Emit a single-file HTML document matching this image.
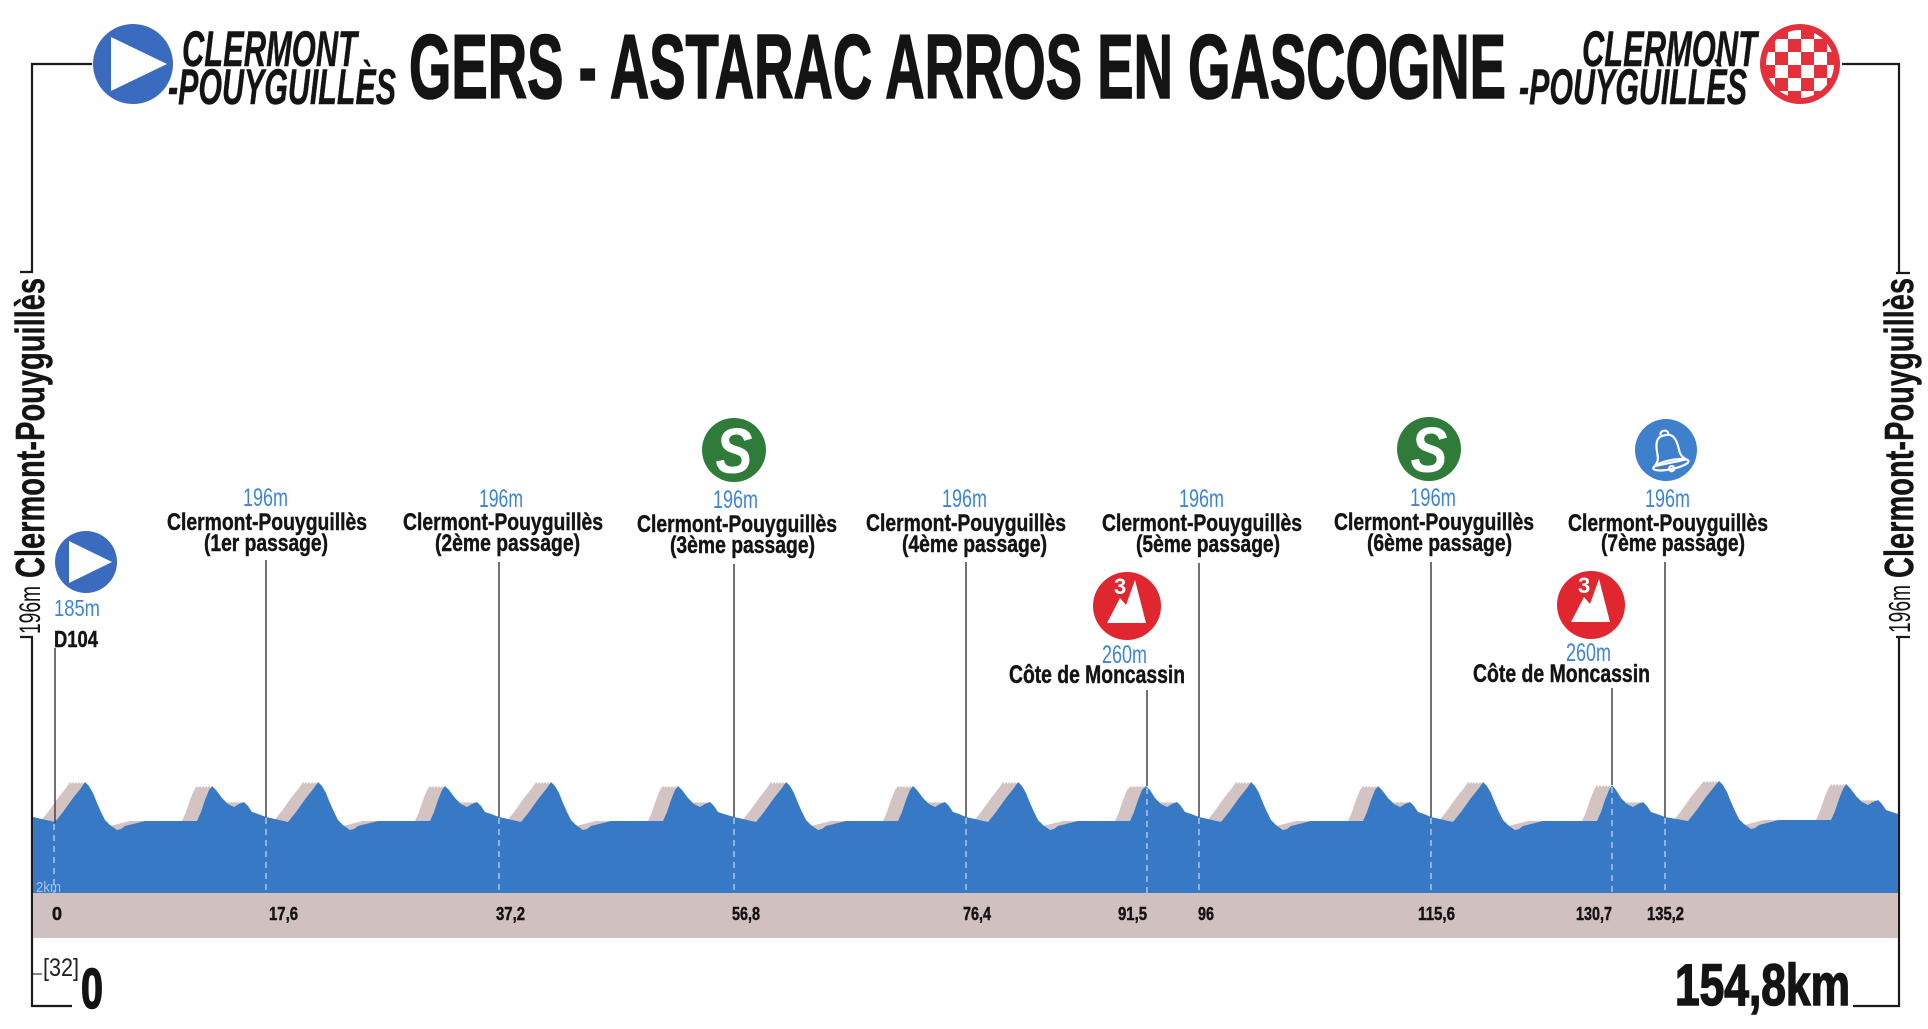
<!DOCTYPE html>
<html><head><meta charset="utf-8"><style>
html,body{margin:0;padding:0;background:#fff;}
svg{display:block;}
text{font-family:"Liberation Sans","DejaVu Sans",sans-serif;}
.b{font-weight:bold;fill:#141414;}
.l{fill:#3d84d6;}
.k{font-weight:bold;fill:#141414;font-size:18px;}
.h{stroke:#141414;stroke-width:1.6;}
.m{stroke:#141414;stroke-width:0.45;}
</style></head><body>
<svg width="1928" height="1029" viewBox="0 0 1928 1029" xmlns="http://www.w3.org/2000/svg">
<defs>
<path id="prof" d="M33,893 L33,817 55,822 63,812 73,798 81,788 85,782 89,786 93,793 97,803 101,812 105,820 110,825 117,830 121,829 125,826 133,824 145,821 197,821 201,812 205,800 209,790 212,786 216,790 222,798 228,804 234,807 239,804 244,802 248,806 252,812 258,814
266,817 288,822 296,812 306,798 314,788 318,782 322,786 326,793 330,803 334,812 338,820 343,825 350,830 354,829 358,826 366,824 378,821 430,821 434,812 438,800 442,790 445,786 449,790 455,798 461,804 467,807 472,804 477,802 481,806 485,812 491,814
499,817 521,822 529,812 539,798 547,788 551,782 555,786 559,793 563,803 567,812 571,820 576,825 583,830 587,829 591,826 599,824 611,821 663,821 667,812 671,800 675,790 678,786 682,790 688,798 694,804 700,807 705,804 710,802 714,806 718,812 724,814
734,817 756,822 764,812 774,798 782,788 786,782 790,786 794,793 798,803 802,812 806,820 811,825 818,830 822,829 826,826 834,824 846,821 898,821 902,812 906,800 910,790 913,786 917,790 923,798 929,804 935,807 940,804 945,802 949,806 953,812 959,814
966,817 988,822 996,812 1006,798 1014,788 1018,782 1022,786 1026,793 1030,803 1034,812 1038,820 1043,825 1050,830 1054,829 1058,826 1066,824 1078,821 1130,821 1134,812 1138,800 1142,790 1146,786 1150,790 1155,798 1161,804 1167,807 1172,804 1177,802 1181,806 1185,812 1191,814
1199,817 1221,822 1229,812 1239,798 1247,788 1251,782 1255,786 1259,793 1263,803 1267,812 1271,820 1276,825 1283,830 1287,829 1291,826 1299,824 1311,821 1363,821 1367,812 1371,800 1375,790 1378,786 1382,790 1388,798 1394,804 1400,807 1405,804 1410,802 1414,806 1418,812 1424,814
1431,817 1453,822 1461,812 1471,798 1479,788 1483,782 1487,786 1491,793 1495,803 1499,812 1503,820 1508,825 1515,830 1519,829 1523,826 1531,824 1543,821 1597,821 1601,812 1605,800 1609,790 1612,785 1616,790 1621,798 1627,804 1633,807 1638,804 1643,802 1647,806 1651,812 1657,814
1665,817 1688,821 1696,811 1706,797 1714,787 1719,781 1723,785 1727,792 1731,802 1735,811 1739,819 1744,824 1751,829 1755,828 1759,825 1767,823 1779,820 1831,820 1835,811 1839,799 1843,789 1846,784 1850,788 1856,796 1862,802 1868,805 1873,802 1878,800 1882,804 1886,810 1892,812 1898,814 L1898,893 Z"/>
<clipPath id="cp"><rect x="33" y="700" width="1866" height="200"/></clipPath>
<clipPath id="flagc"><circle cx="1800" cy="64" r="34"/></clipPath>
</defs>

<!-- frame / axes -->
<g stroke="#1a1a1a" stroke-width="2.2" fill="none">
<path d="M92,64 H32 V272 M20,272 H33"/>
<path d="M32,637 V1006 H72 M20,637 H33"/>
<path d="M1842,64 H1899 V273 M1896,273 H1910"/>
<path d="M1899,637 V1006 H1853 M1896,637 H1910"/>
</g>
<line x1="33" y1="974" x2="42" y2="974" stroke="#334" stroke-width="1.2"/>

<!-- title -->
<text class="b h" x="409" y="98" font-size="91" textLength="1097" lengthAdjust="spacingAndGlyphs">GERS - ASTARAC ARROS EN GASCOGNE</text>
<text class="b m" x="182" y="66" font-size="50" font-style="italic" textLength="175" lengthAdjust="spacingAndGlyphs">CLERMONT</text>
<text class="b m" x="168" y="104" font-size="50" font-style="italic" textLength="228" lengthAdjust="spacingAndGlyphs">-POUYGUILLÈS</text>
<text class="b m" x="1582" y="66" font-size="50" font-style="italic" textLength="175" lengthAdjust="spacingAndGlyphs">CLERMONT</text>
<text class="b m" x="1519" y="104" font-size="50" font-style="italic" textLength="228" lengthAdjust="spacingAndGlyphs">-POUYGUILLÈS</text>

<!-- start logo -->
<circle cx="133" cy="64" r="40" fill="#3a6bbf"/>
<polygon points="111,37 111,91 167,64" fill="#fff"/>
<!-- finish logo -->
<circle cx="1800" cy="64" r="40" fill="#e3303b"/>
<g clip-path="url(#flagc)" fill="#fff">
<rect x="1762" y="26" width="13" height="13"/><rect x="1788" y="26" width="13" height="13"/><rect x="1814" y="26" width="13" height="13"/>
<rect x="1775" y="39" width="13" height="13"/><rect x="1801" y="39" width="13" height="13"/><rect x="1827" y="39" width="13" height="13"/>
<rect x="1762" y="52" width="13" height="13"/><rect x="1788" y="52" width="13" height="13"/><rect x="1814" y="52" width="13" height="13"/>
<rect x="1775" y="65" width="13" height="13"/><rect x="1801" y="65" width="13" height="13"/><rect x="1827" y="65" width="13" height="13"/>
<rect x="1762" y="78" width="13" height="13"/><rect x="1788" y="78" width="13" height="13"/><rect x="1814" y="78" width="13" height="13"/>
<rect x="1775" y="91" width="13" height="13"/><rect x="1801" y="91" width="13" height="13"/>
</g>

<!-- rotated side labels -->
<text class="b m" transform="translate(44,578) rotate(-90)" font-size="41" textLength="300" lengthAdjust="spacingAndGlyphs">Clermont-Pouyguillès</text>
<text transform="translate(40,634) rotate(-90)" font-size="30" fill="#141414" textLength="48" lengthAdjust="spacingAndGlyphs">196m</text>
<text class="b m" transform="translate(1913,578) rotate(-90)" font-size="41" textLength="300" lengthAdjust="spacingAndGlyphs">Clermont-Pouyguillès</text>
<text transform="translate(1910,633) rotate(-90)" font-size="31" fill="#141414" textLength="48" lengthAdjust="spacingAndGlyphs">196m</text>

<!-- profile -->
<g clip-path="url(#cp)" fill="#d3c3c3">
<use href="#prof" transform="translate(-15,0)"/>
<use href="#prof" transform="translate(-12,0)"/>
<use href="#prof" transform="translate(-9,0)"/>
<use href="#prof" transform="translate(-6,0)"/>
<use href="#prof" transform="translate(-3,0)"/>
</g>
<use href="#prof" fill="#3879c6"/>
<rect x="33" y="893" width="1865" height="45" fill="#d1c0c0"/>

<!-- dashed lines in profile -->
<g stroke="#b3cbeb" stroke-width="1.4" stroke-dasharray="6 5">
<line x1="54" y1="824" x2="54" y2="893"/>
<line x1="266" y1="818" x2="266" y2="893"/>
<line x1="499" y1="818" x2="499" y2="893"/>
<line x1="734" y1="818" x2="734" y2="893"/>
<line x1="966" y1="818" x2="966" y2="893"/>
<line x1="1147" y1="788" x2="1147" y2="893"/>
<line x1="1199" y1="818" x2="1199" y2="893"/>
<line x1="1431" y1="818" x2="1431" y2="893"/>
<line x1="1612" y1="787" x2="1612" y2="893"/>
<line x1="1665" y1="818" x2="1665" y2="893"/>
</g>
<!-- solid leader lines -->
<g stroke="#444" stroke-width="1.5">
<line x1="55" y1="648" x2="55" y2="823"/>
<line x1="266" y1="560" x2="266" y2="817"/>
<line x1="499" y1="562" x2="499" y2="817"/>
<line x1="734" y1="564" x2="734" y2="817"/>
<line x1="966" y1="562" x2="966" y2="817"/>
<line x1="1147" y1="690" x2="1147" y2="786"/>
<line x1="1199" y1="563" x2="1199" y2="817"/>
<line x1="1431" y1="562" x2="1431" y2="817"/>
<line x1="1612" y1="688" x2="1612" y2="785"/>
<line x1="1665" y1="562" x2="1665" y2="817"/>
</g>

<text x="36" y="892" font-size="15" fill="#a9c2e4" textLength="25" lengthAdjust="spacingAndGlyphs">2km</text>

<!-- km labels -->
<g class="m">
<text class="k" x="52" y="920">0</text>
<text class="k" x="269" y="920" textLength="29" lengthAdjust="spacingAndGlyphs">17,6</text>
<text class="k" x="496" y="920" textLength="29" lengthAdjust="spacingAndGlyphs">37,2</text>
<text class="k" x="732" y="920" textLength="28" lengthAdjust="spacingAndGlyphs">56,8</text>
<text class="k" x="963" y="920" textLength="28" lengthAdjust="spacingAndGlyphs">76,4</text>
<text class="k" x="1118" y="920" textLength="29" lengthAdjust="spacingAndGlyphs">91,5</text>
<text class="k" x="1198" y="920" textLength="16" lengthAdjust="spacingAndGlyphs">96</text>
<text class="k" x="1418" y="920" textLength="37" lengthAdjust="spacingAndGlyphs">115,6</text>
<text class="k" x="1576" y="920" textLength="36" lengthAdjust="spacingAndGlyphs">130,7</text>
<text class="k" x="1647" y="920" textLength="37" lengthAdjust="spacingAndGlyphs">135,2</text>
</g>

<!-- bottom labels -->
<text x="43" y="976" font-size="25" fill="#222" textLength="36" lengthAdjust="spacingAndGlyphs">[32]</text>
<text class="b h" x="81" y="1008" font-size="57" textLength="22" lengthAdjust="spacingAndGlyphs">0</text>
<text class="b h" x="1675" y="1005" font-size="58" textLength="175" lengthAdjust="spacingAndGlyphs">154,8km</text>

<!-- start small -->
<circle cx="86" cy="562" r="31" fill="#3a6bbf"/>
<polygon points="69,541 69,583 112,562" fill="#fff"/>
<text class="l" x="54" y="616" font-size="23" textLength="46" lengthAdjust="spacingAndGlyphs">185m</text>
<text class="b m" x="54" y="647" font-size="23" textLength="44" lengthAdjust="spacingAndGlyphs">D104</text>

<!-- passage labels -->
<g font-size="25">
<text class="l" x="243" y="506" textLength="45" lengthAdjust="spacingAndGlyphs">196m</text>
<text class="l" x="479" y="507" textLength="44" lengthAdjust="spacingAndGlyphs">196m</text>
<text class="l" x="713" y="508" textLength="45" lengthAdjust="spacingAndGlyphs">196m</text>
<text class="l" x="942" y="507" textLength="45" lengthAdjust="spacingAndGlyphs">196m</text>
<text class="l" x="1179" y="507" textLength="45" lengthAdjust="spacingAndGlyphs">196m</text>
<text class="l" x="1410" y="506" textLength="46" lengthAdjust="spacingAndGlyphs">196m</text>
<text class="l" x="1645" y="507" textLength="45" lengthAdjust="spacingAndGlyphs">196m</text>
</g>
<g font-size="24" class="m">
<text class="b" x="167" y="530" textLength="200" lengthAdjust="spacingAndGlyphs">Clermont-Pouyguillès</text>
<text class="b" x="204" y="551" textLength="124" lengthAdjust="spacingAndGlyphs">(1er passage)</text>
<text class="b" x="403" y="530" textLength="200" lengthAdjust="spacingAndGlyphs">Clermont-Pouyguillès</text>
<text class="b" x="435" y="551" textLength="145" lengthAdjust="spacingAndGlyphs">(2ème passage)</text>
<text class="b" x="637" y="532" textLength="200" lengthAdjust="spacingAndGlyphs">Clermont-Pouyguillès</text>
<text class="b" x="670" y="553" textLength="145" lengthAdjust="spacingAndGlyphs">(3ème passage)</text>
<text class="b" x="866" y="531" textLength="200" lengthAdjust="spacingAndGlyphs">Clermont-Pouyguillès</text>
<text class="b" x="902" y="552" textLength="145" lengthAdjust="spacingAndGlyphs">(4ème passage)</text>
<text class="b" x="1102" y="531" textLength="200" lengthAdjust="spacingAndGlyphs">Clermont-Pouyguillès</text>
<text class="b" x="1136" y="552" textLength="144" lengthAdjust="spacingAndGlyphs">(5ème passage)</text>
<text class="b" x="1334" y="530" textLength="200" lengthAdjust="spacingAndGlyphs">Clermont-Pouyguillès</text>
<text class="b" x="1367" y="551" textLength="145" lengthAdjust="spacingAndGlyphs">(6ème passage)</text>
<text class="b" x="1568" y="531" textLength="200" lengthAdjust="spacingAndGlyphs">Clermont-Pouyguillès</text>
<text class="b" x="1601" y="551" textLength="144" lengthAdjust="spacingAndGlyphs">(7ème passage)</text>
</g>

<!-- sprint icons -->
<circle cx="734" cy="450" r="32" fill="#2e7b3a"/>
<text x="734" y="473" font-size="64" font-weight="bold" font-style="italic" fill="#fff" text-anchor="middle" textLength="37" lengthAdjust="spacingAndGlyphs">S</text>
<circle cx="1429" cy="449" r="32" fill="#2e7b3a"/>
<text x="1429" y="472" font-size="64" font-weight="bold" font-style="italic" fill="#fff" text-anchor="middle" textLength="37" lengthAdjust="spacingAndGlyphs">S</text>

<!-- bell icon -->
<circle cx="1666" cy="450" r="31" fill="#3f80cc"/>
<g transform="translate(1668,451) rotate(-12)" fill="none" stroke="#fff" stroke-width="2.2" stroke-linejoin="round">
<path d="M-4,-17 C-4,-22 4,-22 4,-17"/>
<path d="M-3,-16 C-10,-15 -11,-6 -11,1 C-11,7 -13,9 -16,12 L16,12 C13,9 11,7 11,1 C11,-6 10,-15 3,-16 Z"/>
<ellipse cx="0" cy="14" rx="18" ry="4.5"/>
<circle cx="0" cy="18" r="2.5"/>
</g>

<!-- KOM icons -->
<circle cx="1127" cy="606" r="34" fill="#e0262e"/>
<polygon points="1107,623 1120,598 1126,605 1135,580 1146,623" fill="#fff"/>
<text x="1114" y="594" font-size="22" font-weight="bold" fill="#fff">3</text>
<circle cx="1591" cy="605" r="34" fill="#e0262e"/>
<polygon points="1571,622 1584,597 1590,604 1599,579 1610,622" fill="#fff"/>
<text x="1578" y="593" font-size="22" font-weight="bold" fill="#fff">3</text>

<text class="l" x="1102" y="663" font-size="25" textLength="45" lengthAdjust="spacingAndGlyphs">260m</text>
<text class="b m" x="1009" y="683" font-size="25" textLength="176" lengthAdjust="spacingAndGlyphs">Côte de Moncassin</text>
<text class="l" x="1566" y="661" font-size="25" textLength="45" lengthAdjust="spacingAndGlyphs">260m</text>
<text class="b m" x="1473" y="682" font-size="25" textLength="177" lengthAdjust="spacingAndGlyphs">Côte de Moncassin</text>
</svg>
</body></html>
